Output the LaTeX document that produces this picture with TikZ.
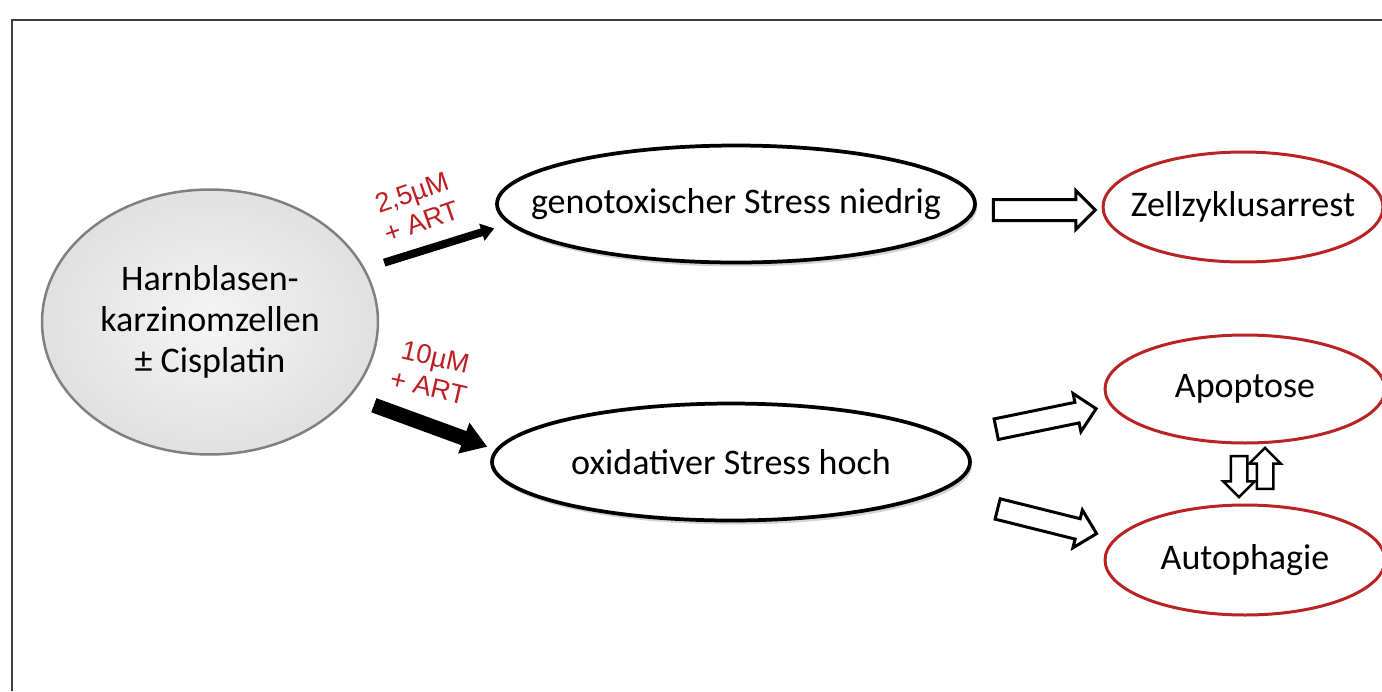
\documentclass[tikz,border=0pt]{standalone}
\usepackage{fontspec}
\setmainfont{Carlito}
\newfontfamily\dosefont{Liberation Sans}
\usetikzlibrary{shapes.geometric,shapes.arrows,arrows.meta,shadows,calc}
\definecolor{dosered}{RGB}{190,30,35}
\definecolor{fateRed}{RGB}{185,35,35}

\begin{document}
\begin{tikzpicture}[x=0.02cm,y=-0.02cm]
\tikzstyle{pageframe}=[draw=black!75, line width=0.03cm]
\tikzstyle{tumor}=[ellipse, draw=black!50, line width=0.05cm, inner color=gray!8, outer color=gray!24, inner xsep=0.1cm, minimum width=6.72cm, minimum height=5.3cm, align=center, font=\fontsize{20.5}{23.5}\selectfont]
\tikzstyle{stress}=[ellipse, draw=black, line width=0.075cm, fill=white, drop shadow={shadow xshift=0.04cm, shadow yshift=-0.08cm, opacity=0.35}, minimum width=9.56cm, minimum height=2.34cm, font=\fontsize{20.5}{23.5}\selectfont]
\tikzstyle{fate}=[ellipse, draw=fateRed, line width=0.06cm, fill=white, minimum width=5.6cm, minimum height=2.2cm, font=\fontsize{20.5}{23.5}\selectfont]
\tikzstyle{dose}=[text=dosered, font=\dosefont\fontsize{15.5}{17.5}\selectfont, align=center, inner sep=0pt]
\tikzstyle{thinline}=[draw, line width=0.16cm, -{Triangle[length=0.26cm,width=0.34cm]}]
\tikzstyle{thickline}=[draw, line width=0.3cm, -{Triangle[length=0.5cm,width=0.62cm]}]
\tikzstyle{hollow}=[single arrow, draw, line width=0.06cm, fill=white, inner xsep=0pt, inner ysep=0.18cm, minimum height=2.04cm, single arrow head extend=0.18cm]
\tikzstyle{flip}=[single arrow, draw, line width=0.05cm, fill=white, inner xsep=0pt, inner ysep=0.14cm, minimum height=0.82cm, single arrow head extend=0.15cm]

\useasboundingbox (0,0) rectangle (1382,691);

% Frame
\draw[pageframe] (12,691) -- (12,20) -- (1382,20);

% Define ellipses
\node[tumor] (harn) at (210,322) {Harnblasen-\\karzinomzellen\\\textpm{} Cisplatin};
\node[stress, inner xsep=-0.72cm] (geno) at (736,204) {genotoxischer Stress niedrig};
\node[stress] (oxid) at (731,462) {oxidativer Stress hoch};
\node[fate, inner xsep=-0.27cm] (zell) at (1243,207) {Zellzyklusarrest};
\node[fate, minimum height=2.16cm] (apop) at (1245,389) {Apoptose};
\node[fate] (auto) at (1245,560) {Autophagie};

% Treatment arrows
\draw[thinline, shorten <=0.4cm, shorten >=0.3cm] (harn.19.6) -- (geno.185);
\draw[thickline, shorten <=0.5cm, shorten >=0.17cm] (harn.-28.3) -- (oxid.177);
\node[dose, rotate=19] (low) at (417,207) {2,5\textmu M\\+ ART};
\node[dose, rotate=-13] (high) at (432,372) {10\textmu M\\+ ART};

% Outcome arrows
\node[hollow] (toZell) at (1039,210) {};
\node[hollow, rotate=11.6] (toApop) at (1041,420) {};
\node[hollow, rotate=-14] (toAuto) at (1042,520) {};
\node[flip, rotate=-90] (down) at (1239,472.5) {};
\node[flip, rotate=90] (up) at (1265,472.5) {};
\end{tikzpicture}
\end{document}
